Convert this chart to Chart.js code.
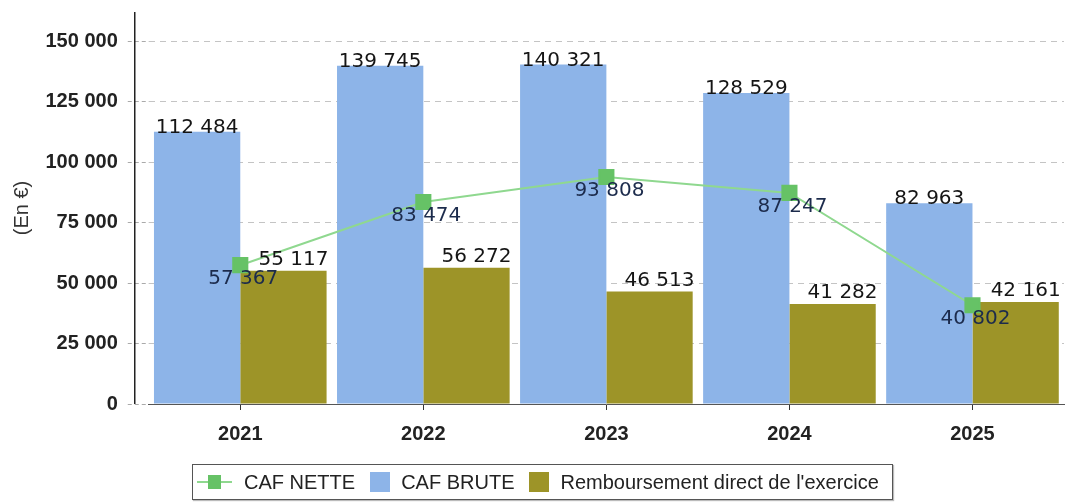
<!DOCTYPE html>
<html>
<head>
<meta charset="utf-8">
<script src="https://cdn.jsdelivr.net/npm/chart.js@4.4.1/dist/chart.umd.min.js"></script>
<style>
  html, body { margin: 0; padding: 0; background: #fff; }
  #wrap { position: relative; width: 1076px; height: 504px; }
  #legend {
    position: absolute; left: 192px; top: 464px; width: 701px; height: 36px;
    box-sizing: border-box; border: 1px solid #555; box-shadow: 1px 1px 1px #bbb;
    display: flex; align-items: center; padding-left: 4px;
    font: 20px "Liberation Sans", Arial, sans-serif; color: #222; white-space: nowrap;
  }
  .item { display: flex; align-items: center; }
  .item + .item { margin-left: 15px; }
  .swatch { width: 20px; height: 20px; margin-right: 11px; }
  .lineicon { position: relative; width: 35px; height: 20px; margin-right: 12px; }
  .lineicon i { position: absolute; left: 0; right: 0; top: 9px; height: 2px; }
  .lineicon b { position: absolute; left: 11px; top: 3px; width: 13px; height: 14px; }
</style>
</head>
<body>
<div id="wrap">
  <canvas id="chart" width="1076" height="504"></canvas>
  <div id="legend"></div>
</div>
<script>
const years = ['2021', '2022', '2023', '2024', '2025'];
const cafNette = [57367, 83474, 93808, 87247, 40802];
const cafBrute = [112484, 139745, 140321, 128529, 82963];
const remboursement = [55117, 56272, 46513, 41282, 42161];
const yTicks = [0, 25000, 50000, 75000, 100000, 125000, 150000];

const fmt = v => String(v).replace(/\B(?=(\d{3})+(?!\d))/g, ' ');

// vertical axis line sits a bit left of the first category
const axisLine = {
  id: 'axisLine',
  afterDraw(chart) {
    const { ctx, chartArea } = chart;
    ctx.save();
    ctx.strokeStyle = '#222';
    ctx.lineWidth = 1.5;
    ctx.beginPath();
    ctx.moveTo(chartArea.left - 14, chartArea.top);
    ctx.lineTo(chartArea.left - 14, chartArea.bottom);
    ctx.stroke();
    ctx.restore();
  }
};

const valueLabels = {
  id: 'valueLabels',
  afterDatasetsDraw(chart) {
    const ctx = chart.ctx;
    ctx.save();
    ctx.font = '20px "DejaVu Sans"';
    ctx.textAlign = 'center';
    ctx.textBaseline = 'middle';
    chart.data.datasets.forEach((ds, i) => {
      chart.getDatasetMeta(i).data.forEach((el, j) => {
        let x = el.x, y = el.y;
        if (ds.type === 'line') {
          x += 3; y += 14;
          ctx.fillStyle = '#1c2b4c';
        } else if (ds.label === 'CAF BRUTE') {
          y -= 4;
          ctx.fillStyle = '#151515';
        } else {
          x += 10; y -= 11;
          ctx.fillStyle = '#151515';
        }
        ctx.fillText(fmt(ds.data[j]), x, y);
      });
    });
    ctx.restore();
  }
};

const chart = new Chart(document.getElementById('chart').getContext('2d'), {
  data: {
    labels: years,
    datasets: [
      {
        type: 'line',
        label: 'CAF NETTE',
        data: cafNette,
        order: 0,
        borderColor: '#8fd88f',
        borderWidth: 2,
        pointStyle: 'rect',
        pointRadius: 10,
        pointBackgroundColor: '#66c266',
        pointBorderColor: '#66c266',
        tension: 0
      },
      {
        type: 'bar',
        label: 'CAF BRUTE',
        data: cafBrute,
        order: 1,
        backgroundColor: '#8db4e8',
        barPercentage: 1,
        categoryPercentage: 0.943
      },
      {
        type: 'bar',
        label: 'Remboursement direct de l\'exercice',
        data: remboursement,
        order: 1,
        backgroundColor: '#9d9428',
        barPercentage: 1,
        categoryPercentage: 0.943
      }
    ]
  },
  options: {
    responsive: false,
    animation: false,
    layout: { padding: { top: 9, right: 4.75, bottom: 0, left: 0 } },
    scales: {
      x: {
        afterFit: s => { s.height = 100; s.paddingLeft = 0; s.paddingRight = 0; },
        grid: {
          display: true,
          drawOnChartArea: false,
          offset: false,
          tickLength: 6,
          tickColor: '#333'
        },
        border: { display: true, color: '#555', dash: [3, 3] },
        ticks: {
          padding: 12,
          color: '#222',
          font: { family: 'Liberation Sans', size: 20, weight: 'bold' }
        }
      },
      y: {
        min: 0,
        max: 162000,
        afterFit: s => { s.width = 148.75; s.paddingTop = 0; s.paddingBottom = 0; },
        afterBuildTicks: s => { s.ticks = yTicks.map(v => ({ value: v })); },
        grid: {
          color: '#c4c4c4',
          tickLength: 21,
          tickColor: '#aaa',
          tickBorderDash: [4, 3]
        },
        border: { display: false, dash: [6, 5] },
        ticks: {
          padding: 10,
          color: '#222',
          font: { family: 'Liberation Sans', size: 20, weight: 'bold' },
          callback: v => fmt(v)
        },
        title: {
          display: true,
          text: '(En €)',
          color: '#333',
          padding: { top: 10, bottom: 0 },
          font: { family: 'Liberation Sans', size: 20 }
        }
      }
    },
    plugins: {
      legend: { display: false },
      tooltip: { enabled: false }
    }
  },
  plugins: [valueLabels, axisLine]
});

// html legend built from the chart datasets
const legend = document.getElementById('legend');
chart.data.datasets.forEach(ds => {
  const item = document.createElement('div');
  item.className = 'item';
  let icon;
  if (ds.type === 'line') {
    icon = document.createElement('span');
    icon.className = 'lineicon';
    icon.innerHTML = '<i style="background:' + ds.borderColor + '"></i><b style="background:' + ds.pointBackgroundColor + '"></b>';
  } else {
    icon = document.createElement('span');
    icon.className = 'swatch';
    icon.style.background = ds.backgroundColor;
  }
  const txt = document.createElement('span');
  txt.textContent = ds.label;
  item.appendChild(icon);
  item.appendChild(txt);
  legend.appendChild(item);
});
</script>
</body>
</html>
